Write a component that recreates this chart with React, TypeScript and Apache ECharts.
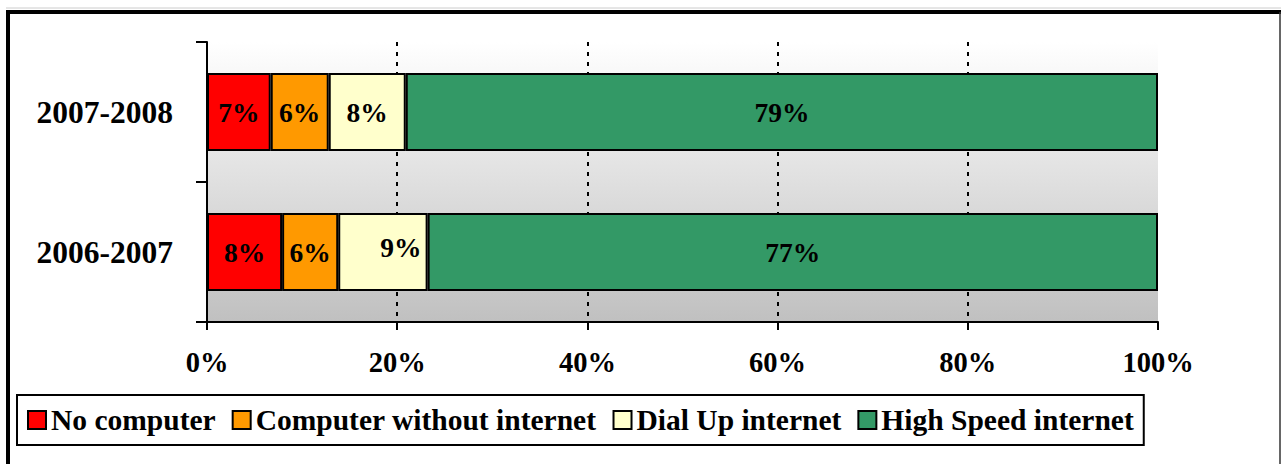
import React, { useEffect, useRef } from "react";
import * as echarts from "echarts";

const categories = ["2006-2007", "2007-2008"];
const noComputer = [7.9, 6.7];
const withoutInternet = [5.9, 6.1];
const dialUp = [9.4, 8.1];
const highSpeed = [76.8, 79.1];
const seriesNames = ["No computer", "Computer without internet", "Dial Up internet", "High Speed internet"];
const seriesColors = ["#ff0000", "#ff9900", "#ffffcc", "#339966"];

const FONT = "Liberation Serif";

export default function App() {
  const ref = useRef<HTMLDivElement>(null);
  useEffect(() => {
    if (!ref.current) return;
    const chart = echarts.init(ref.current, undefined, { renderer: "svg" });
    const values = [noComputer, withoutInternet, dialUp, highSpeed];
    const series = values.map((vals, i) => ({
      name: seriesNames[i],
      type: "bar",
      stack: "total",
      barWidth: 78,
      itemStyle: { color: seriesColors[i], borderColor: "#000", borderWidth: 2 },
      label: {
        show: true,
        position: "inside",
        color: "#000",
        fontFamily: FONT,
        fontWeight: "bold",
        fontSize: 27.5,
        formatter: (p: any) => Math.round(p.value) + "%",
      },
      data: vals.map((v, j) =>
        i === 2 && j === 0 ? { value: v, label: { offset: [18, -5] } } : v
      ),
    }));
    chart.setOption({
      animation: false,
      backgroundColor: "#fff",
      grid: {
        left: 207,
        right: 123,
        top: 42,
        bottom: 142,
        show: true,
        borderWidth: 0,
        backgroundColor: new echarts.graphic.LinearGradient(0, 0, 0, 1, [
          { offset: 0, color: "#ffffff" },
          { offset: 1, color: "#c0c0c0" },
        ]),
      },
      legend: {
        left: 17,
        top: 395,
        orient: "horizontal",
        itemWidth: 18,
        itemHeight: 18,
        itemGap: 16,
        icon: "rect",
        padding: [10, 10, 10, 10],
        borderColor: "#000",
        borderWidth: 2,
        textStyle: { fontFamily: FONT, fontWeight: "bold", fontSize: 29.5, color: "#000" },
        data: seriesNames,
      },
      xAxis: {
        type: "value",
        min: 0,
        max: 100,
        interval: 20,
        axisLine: { show: true, lineStyle: { color: "#000", width: 2 } },
        axisTick: { show: true, length: 8, lineStyle: { color: "#000", width: 2 } },
        axisLabel: {
          formatter: "{value}%",
          fontFamily: FONT,
          fontWeight: "bold",
          fontSize: 28.5,
          color: "#000",
          margin: 26,
        },
        splitLine: {
          show: true,
          showMinLine: false,
          showMaxLine: false,
          lineStyle: { color: "#000", width: 2, type: [4, 6] },
        },
      },
      yAxis: {
        type: "category",
        data: categories,
        axisLine: { show: true, lineStyle: { color: "#000", width: 2 } },
        axisTick: { show: true, length: 11, lineStyle: { color: "#000", width: 2 } },
        axisLabel: {
          fontFamily: FONT,
          fontWeight: "bold",
          fontSize: 31.5,
          color: "#000",
          margin: 34,
        },
      },
      graphic: [
        { type: "line", shape: { x1: 6, y1: 8, x2: 1281, y2: 8 }, style: { stroke: "#cccccc", lineWidth: 1 } },
        { type: "line", shape: { x1: 6, y1: 12, x2: 1281, y2: 12 }, style: { stroke: "#000", lineWidth: 4 } },
        { type: "line", shape: { x1: 8, y1: 10, x2: 8, y2: 464 }, style: { stroke: "#000", lineWidth: 4 } },
        { type: "line", shape: { x1: 1280, y1: 12, x2: 1280, y2: 464 }, style: { stroke: "#333", lineWidth: 1.5 } },
      ],
      series,
    });
    return () => chart.dispose();
  }, []);
  return (
    <div
      ref={ref}
      style={{ position: "absolute", left: 0, top: 0, width: 1281, height: 464 }}
    />
  );
}
